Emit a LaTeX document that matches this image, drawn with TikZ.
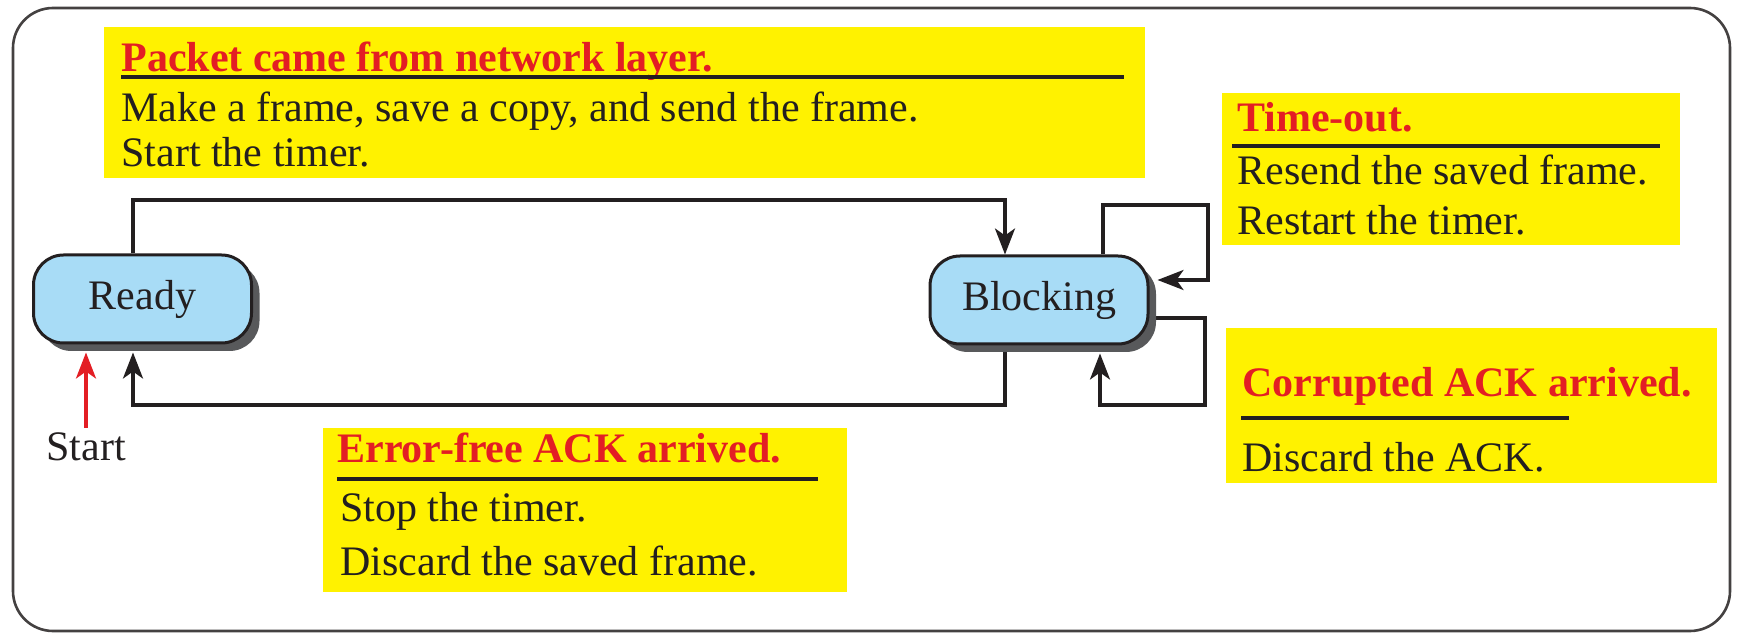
\documentclass[tikz,border=0pt]{standalone}
\usepackage{fontspec}
\setmainfont{Liberation Serif}
\usetikzlibrary{arrows.meta,shadows,fit,backgrounds}
\definecolor{ylw}{HTML}{FFF200}
\definecolor{redt}{HTML}{E31E24}
\definecolor{nodeblue}{HTML}{A8DCF6}
\definecolor{shadowgray}{HTML}{58595B}
\definecolor{ink}{HTML}{231F20}
\begin{document}
\begin{tikzpicture}[x=0.5pt,y=-0.5pt,
  every node/.style={font=\fontsize{21pt}{25pt}\selectfont, text=ink},
  state/.style={draw=ink, line width=1.5pt, fill=nodeblue, rounded corners=15pt,
    minimum width=109pt, minimum height=44pt, inner sep=0pt,
    drop shadow={shadow xshift=4pt, shadow yshift=-4pt, fill=shadowgray, opacity=1}},
  ybox/.style={fill=ylw, inner sep=0pt, draw=none},
  ttl/.style={anchor=base west, inner sep=0pt, text=redt, font=\fontsize{21pt}{25pt}\selectfont\bfseries},
  txt/.style={anchor=base west, inner sep=0pt},
  uline/.style={draw=ink, line width=2pt},
  conn/.style={draw=ink, line width=1.7pt, -{Stealth[length=13pt,width=10pt,inset=3.5pt]}},
  startarr/.style={draw=redt, line width=1.7pt, -{Stealth[length=13pt,width=10pt,inset=3.5pt]}},
]
\useasboundingbox (0,0) rectangle (1737,636);
\draw[draw=ink!85, line width=1.3pt, rounded corners=20pt] (13,8) rectangle (1730,631);

% states
\node[state] (ready) at (142.5,299) {Ready};
\node[state] (block) at (1039,300) {Blocking};

% start label
\node[inner sep=2pt, anchor=base] (start) at (86,460) {Start};

% helper coordinates
\coordinate (rs) at ([yshift=-4pt]ready.south);
\coordinate (bs) at ([yshift=-4pt]block.south);
\coordinate (be) at ([xshift=4pt]block.east);
\coordinate (ta) at (133,200);
\coordinate (tb) at (1005,200);
\coordinate (ba) at (1005,405);
\coordinate (bb) at (133,405);
\coordinate (la) at (1103,205);
\coordinate (lb) at (1208,205);
\coordinate (lc) at (1208,280);
\coordinate (ma) at (1205,318);
\coordinate (mb) at (1205,405);
\coordinate (mc) at (1100,405);

\begin{scope}[on background layer]
\draw[conn] (ready.north -| ta) -- (ta) -- (tb) -- (block.north -| tb);
\draw[conn] (block.south -| ba) -- (ba) -- (bb) -- (rs -| bb);
\draw[conn] (block.north -| la) -- (la) -- (lb) -- (lc) -- (be |- lc);
\draw[conn] (block.east |- ma) -- (ma) -- (mb) -- (mc) -- (bs -| mc);
\end{scope}
\draw[startarr] (start.north) -- (rs -| start.north);

% Packet box
\node[ybox, fit={(104,27) (1145,178)}] (pbox) {};
\node[ttl] (ptitle) at (121,72) {Packet came from network layer.};
\draw[uline] (121,77) -- (1124,77);
\node[txt] (pline1) at (121,122) {Make a frame, save a copy, and send the frame.};
\node[txt] (pline2) at (121,167) {Start the timer.};

% Time-out box
\node[ybox, fit={(1222,93) (1680,245)}] (tbox) {};
\node[ttl] (ttitle) at (1237,132) {Time-out.};
\draw[uline] (1232,146) -- (1660,146);
\node[txt] (tline1) at (1237,185) {Resend the saved frame.};
\node[txt] (tline2) at (1237,235) {Restart the timer.};

% Corrupted box
\node[ybox, fit={(1226,328) (1717,483)}] (cbox) {};
\node[ttl] (ctitle) at (1242,397) {Corrupted ACK arrived.};
\draw[uline] (1241,418) -- (1569,418);
\node[txt] (cline1) at (1242,472) {Discard the ACK.};

% Error-free box
\node[ybox, fit={(323,428) (847,592)}] (ebox) {};
\node[ttl] (etitle) at (337,463) {Error-free ACK arrived.};
\draw[uline] (337,479) -- (818,479);
\node[txt] (eline1) at (340,522) {Stop the timer.};
\node[txt] (eline2) at (340,575) {Discard the saved frame.};
\end{tikzpicture}
\end{document}
